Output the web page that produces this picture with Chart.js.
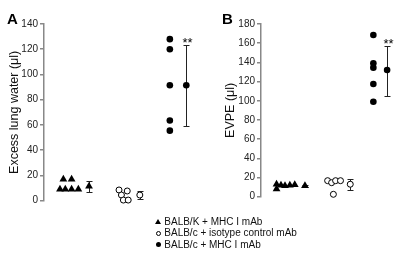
<!DOCTYPE html>
<html><head><meta charset="utf-8">
<script src="https://cdn.jsdelivr.net/npm/chart.js@4/dist/chart.umd.min.js"></script>
<style>
html,body{margin:0;padding:0;background:#fff;width:405px;height:260px;overflow:hidden;font-family:"Liberation Sans",Arial,sans-serif;}
#wrapA{position:absolute;left:0;top:0;width:200px;height:260px;}
#wrapB{position:absolute;left:200px;top:0;width:205px;height:260px;}
.panel{position:absolute;font-weight:bold;font-size:15px;line-height:15px;color:#000;}
#legend{position:absolute;left:155px;top:216px;font-size:10px;color:#111;}
.row{position:relative;padding-left:9.3px;height:11.3px;line-height:11.3px;white-space:nowrap;}
.m{position:absolute;}
.tri{left:0;top:3px;width:0;height:0;border-left:3px solid transparent;border-right:3px solid transparent;border-bottom:5px solid #000;}
.oc{left:1px;top:3.5px;width:3px;height:3px;border:1px solid #000;border-radius:50%;}
.fc{left:1px;top:3.5px;width:5px;height:5px;background:#000;border-radius:50%;}
</style>
</head><body>
<div id="wrapA"><canvas id="cA" width="200" height="260"></canvas></div>
<div id="wrapB"><canvas id="cB" width="205" height="260"></canvas></div>
<div class="panel" style="left:7px;top:11px;">A</div>
<div class="panel" style="left:222px;top:11px;">B</div>
<div id="legend"></div>
<script>
// Group names (legend)
const groups = ['BALB/K + MHC I mAb', 'BALB/c + isotype control mAb', 'BALB/c + MHC I mAb'];

// Panel A: Excess lung water (µl)
const aTriX  = [0.40, 0.57, 0.33, 0.44, 0.57, 0.71];
const aTriY  = [17, 17, 9, 9, 9, 9];
const aOpenX = [1.55, 1.72, 1.60, 1.64, 1.74];
const aOpenY = [8.5, 7.7, 4.5, 0.5, 0.5];
const aFillX = [2.6, 2.6, 2.6, 2.6, 2.6];
const aFillY = [128, 120, 91.5, 63.5, 55.5];
const aMeanX = [0.93, 1.98, 2.94];
const aMean  = [11.5, 4.5, 91.5];
const aErrLo = [6.7, 1, 59.4];
const aErrHi = [16, 8, 123.3];
const aSig   = ['', '', '**'];

// Panel B: EVPE (µl)
const bTriX  = [0.35, 0.35, 0.45, 0.54, 0.65, 0.76];
const bTriY  = [13, 8, 12, 11.5, 12, 12.5];
const bOpenX = [1.50, 1.59, 1.68, 1.79, 1.63];
const bOpenY = [16.7, 14.6, 16.7, 16.7, 2.5];
const bFillX = [2.53, 2.53, 2.53, 2.53, 2.53];
const bFillY = [168.5, 139, 134.5, 117.5, 99];
const bMeanX = [0.99, 2.01, 2.84];
const bMean  = [11.5, 13, 132];
const bErrLo = [10.5, 6.5, 105.3];
const bErrHi = [12.5, 18.5, 157.5];
const bSig   = ['', '', '**'];

const FONT = '"Liberation Sans", Arial, sans-serif';
Chart.defaults.font.family = FONT;

const styles = [
  {pointStyle:'triangle', pointRadius:4.5, backgroundColor:'#000', borderColor:'#000', borderWidth:0},
  {pointStyle:'circle', pointRadius:3, backgroundColor:'#fff', borderColor:'#000', borderWidth:1},
  {pointStyle:'circle', pointRadius:3.3, backgroundColor:'#000', borderColor:'#000', borderWidth:0}
];

function pts(xs, ys){ return xs.map((x,i)=>({x:x, y:ys[i]})); }

function makeChart(id, o){
  const errPlugin = {
    id:'err'+id,
    beforeDatasetsDraw(chart){
      const xs = chart.scales.x, ys = chart.scales.y, ctx = chart.ctx;
      ctx.save();
      ctx.strokeStyle = '#222'; ctx.lineWidth = 1;
      o.meanX.forEach((mx,i)=>{
        const px = Math.round(xs.getPixelForValue(mx)) + 0.5;
        const top = Math.round(ys.getPixelForValue(o.hi[i])) + 0.5;
        const bot = Math.round(ys.getPixelForValue(o.lo[i])) + 0.5;
        ctx.beginPath();
        ctx.moveTo(px, top); ctx.lineTo(px, bot);
        ctx.moveTo(px-3, top); ctx.lineTo(px+3, top);
        ctx.moveTo(px-3, bot); ctx.lineTo(px+3, bot);
        ctx.stroke();
        if (o.sig[i]) {
          ctx.fillStyle = '#000';
          ctx.font = '13px ' + FONT;
          ctx.textAlign = 'center'; ctx.textBaseline = 'alphabetic';
          ctx.fillText(o.sig[i], px + 1, top + 1.5);
        }
      });
      ctx.restore();
    }
  };
  const ds = [];
  o.sets.forEach((s,g)=>{
    ds.push(Object.assign({label:groups[g], data:pts(s[0], s[1]), showLine:false, clip:false}, styles[g]));
  });
  o.meanX.forEach((mx,g)=>{
    ds.push(Object.assign({label:groups[g]+' mean', data:[{x:mx, y:o.mean[g]}], showLine:false, clip:false}, styles[g]));
  });
  return new Chart(document.getElementById(id), {
    type:'scatter',
    data:{datasets:ds},
    plugins:[errPlugin],
    options:{
      responsive:false, animation:false, events:[],
      layout:{padding:{top:24, bottom:o.padBottom, left:0, right:0}},
      plugins:{legend:{display:false}, tooltip:{enabled:false}},
      scales:{
        x:{type:'linear', display:false, min:0, max:o.xMax},
        y:{type:'linear', position:'left', min:0, max:o.yMax,
          ticks:{stepSize:20, color:'#222', font:{size:10, family:FONT}, padding:2},
          grid:{display:true, drawOnChartArea:false, drawTicks:true, tickLength:4, color:'#888', lineWidth:1.5},
          border:{display:true, color:'#888', width:1.5},
          title:{display:true, text:o.title, color:'#111', font:{size:12.5, family:FONT}, padding:{top:o.titlePad, bottom:0}},
          afterFit(s){ s.width = o.axisW; }
        }
      }
    }
  });
}

makeChart('cA', {
  sets:[[aTriX,aTriY],[aOpenX,aOpenY],[aFillX,aFillY]],
  meanX:aMeanX, mean:aMean, lo:aErrLo, hi:aErrHi, sig:aSig,
  yMax:140, xMax:3.12, padBottom:59.3, axisW:44, titlePad:7.4,
  title:'Excess lung water (μl)'
});
makeChart('cB', {
  sets:[[bTriX,bTriY],[bOpenX,bOpenY],[bFillX,bFillY]],
  meanX:bMeanX, mean:bMean, lo:bErrLo, hi:bErrHi, sig:bSig,
  yMax:180, xMax:3.13, padBottom:63.3, axisW:61, titlePad:22.9,
  title:'EVPE (μl)'
});

const marks = ['tri','oc','fc'];
const leg = document.getElementById('legend');
groups.forEach((g,i)=>{
  const r = document.createElement('div'); r.className='row';
  const m = document.createElement('span'); m.className='m '+marks[i];
  r.appendChild(m); r.appendChild(document.createTextNode(g));
  leg.appendChild(r);
});
</script>
</body></html>
